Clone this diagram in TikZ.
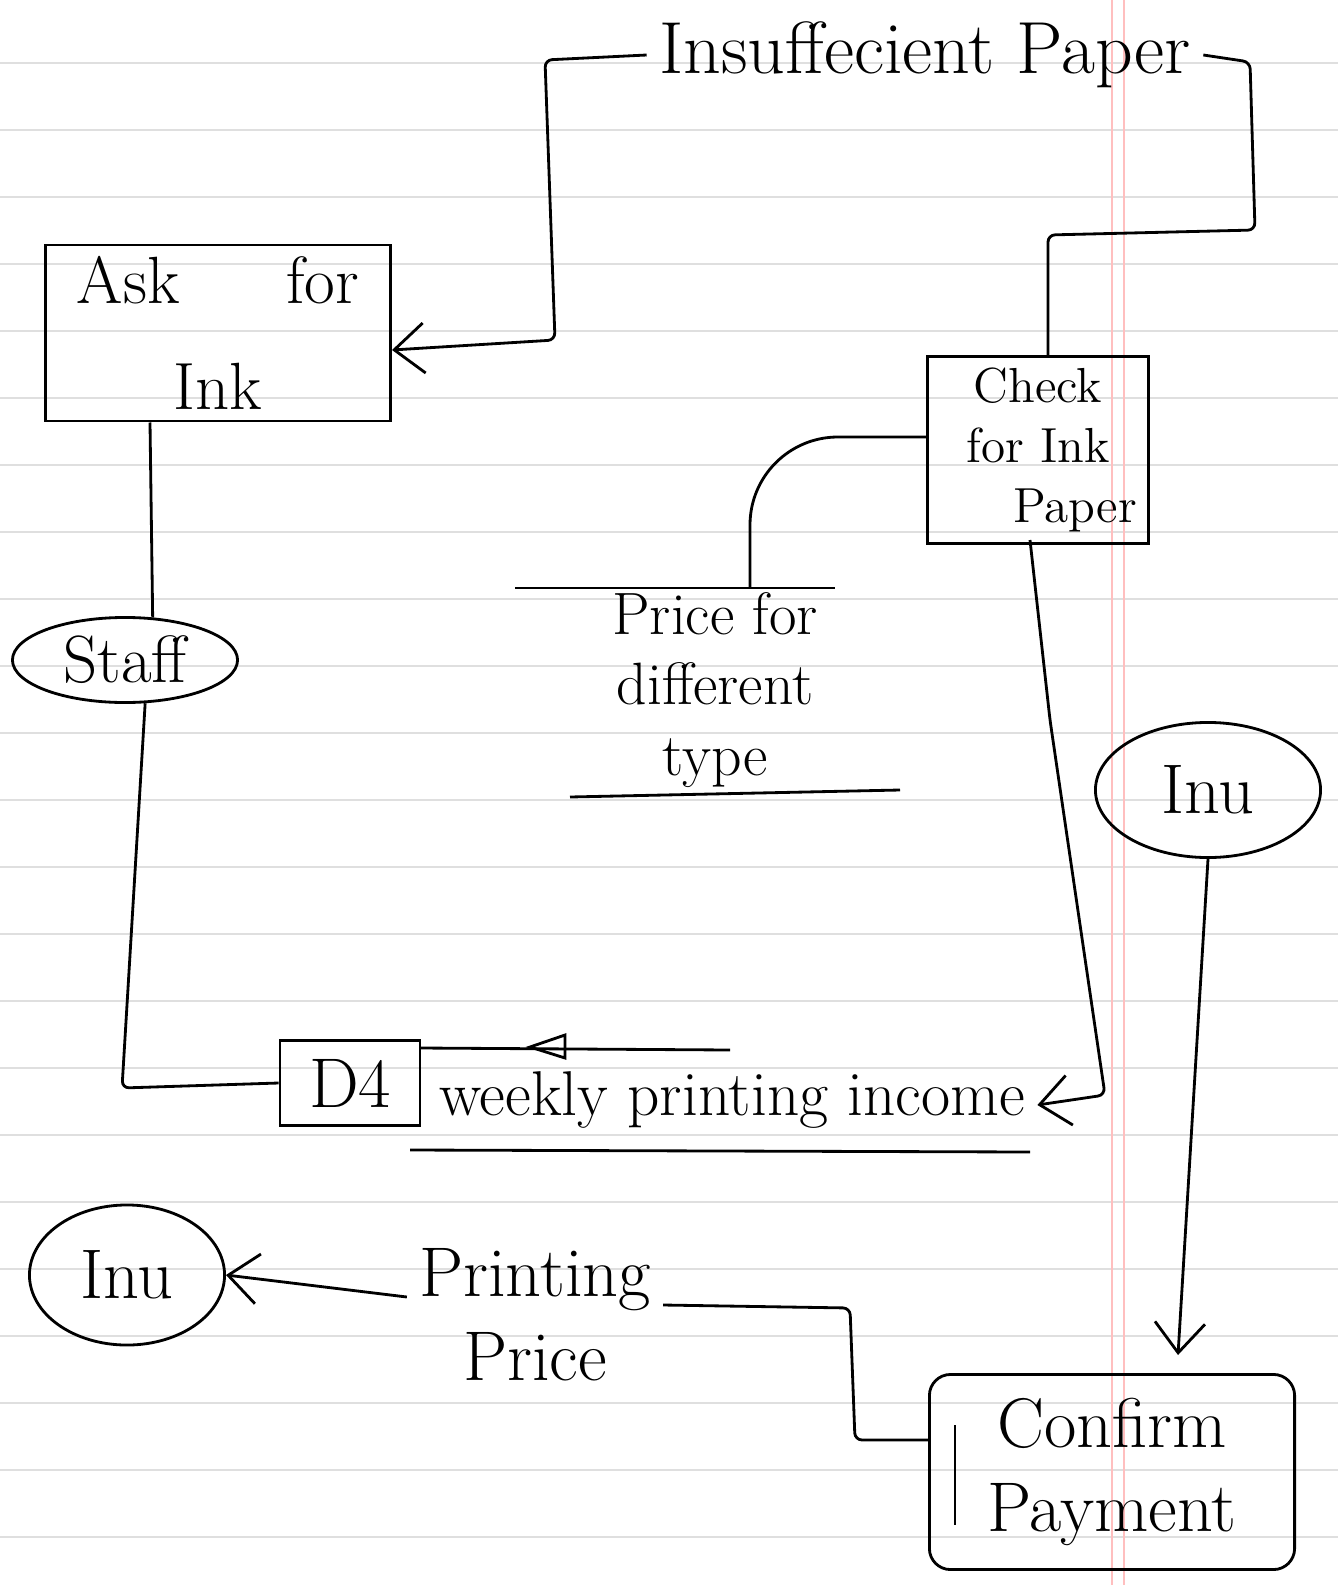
\documentclass[tikz,border=0pt]{standalone}
\usepackage{tikz}
\usetikzlibrary{shapes.geometric, arrows.meta}

\tikzset{
    flow/.style={thick, rounded corners=2pt},
    flowarrow/.style={flow, -{Straight Barb[length=3mm, width=5mm]}},
    procbox/.style={draw, thick, rectangle, align=center},
    entity/.style={draw, thick, ellipse, inner sep=0pt},
    handtext/.style={font=\fontsize{20}{24}\selectfont, align=center}
}

\begin{document}
\begin{tikzpicture}[x=0.01cm, y=-0.01cm]
    \useasboundingbox (0,0) rectangle (1338,1585);
    \fill[white] (0,0) rectangle (1338,1585);

    % Ruled paper
    \foreach \y in {63,130,...,1585} {
        \draw[gray!25] (0,\y) -- (1338,\y);
    }
    \draw[red!25] (1112,0) -- (1112,1585);
    \draw[red!25] (1124,0) -- (1124,1585);

    % Processes
    \node[procbox, font=\fontsize{19}{30}\selectfont, minimum width=3.45cm, minimum height=1.65cm] (ask) at (218,333)
        {Ask\hspace{1.6em}for\\Ink};
    \node[procbox, font=\fontsize{14}{17}\selectfont, minimum width=2.15cm, minimum height=1.8cm] (check) at (1038,450)
        {Check\\for Ink\\\hspace{1.5em}Paper};
    \node[procbox, handtext, rounded corners=6pt, minimum width=3.65cm, minimum height=1.95cm] (confirm) at (1112,1472)
        {Confirm\\Payment};
    \draw[thick] (955,1425) -- (955,1525);

    % External entities
    \node[entity, font=\fontsize{19}{22}\selectfont, minimum width=2.25cm, minimum height=0.85cm] (staff) at (125,660) {Staff};
    \node[entity, handtext, minimum width=2.25cm, minimum height=1.35cm] (inuright) at (1208,790) {Inu};
    \node[entity, handtext, minimum width=1.95cm, minimum height=1.4cm] (inuleft) at (127,1275) {Inu};

    % Data stores
    \node[font=\fontsize{17}{20}\selectfont, align=center] (pricestore) at (715,690) {Price for\\different\\type};
    \coordinate (pricetop) at (750,588);
    \draw[thick] (515,588) -- (835,588);
    \draw[thick] (570,797) -- (900,790);

    \node[draw, thick, handtext, minimum width=1.4cm, minimum height=0.85cm] (dfour) at (350,1083) {D4};
    \node[font=\fontsize{18}{22}\selectfont] (income) at (732,1100) {weekly printing income};
    \draw[thick] (420,1048) -- (730,1050);
    \draw[thick] (410,1150) -- (1030,1152);
    \draw[thick] (565,1035) -- (530,1047) -- (565,1058) -- cycle;

    % Flow labels
    \node[handtext, font=\fontsize{21}{25}\selectfont] (insuff) at (925,55) {Insuffecient Paper};
    \node[handtext] (printprice) at (535,1315) {Printing\\Price};

    % Flows
    \coordinate (insuffleft) at (545,60);
    \coordinate (askin) at (555,350);
    \draw[flow] (check.north -| 1048,0) -- (1048,235) -- (1255,230) -- (1250,62) -- (insuff.east);
    \draw[flowarrow] (insuff.west) -- (insuffleft) -- (555,340) -- (ask.east |- askin);
    \draw[thick, rounded corners=25pt] (check.west |- 0,437) -- (750,437) -- (pricetop);
    \draw[flowarrow] (1030,540) -- (1050,720) -- (1105,1095) -- (income.east |- 0,1105);
    \draw[flow] (ask.south -| 150,0) -- (staff.57);
    \draw[flow] (staff.-65) -- (122,1088) -- (dfour.west);
    \draw[flowarrow] (inuright.south) -- (1178,1355);
    \draw[flow] (printprice.east |- 0,1305) -- (850,1308) -- (855,1440) -- (confirm.west |- 0,1440);
    \draw[flowarrow] (printprice.west |- 0,1297) -- (inuleft.east);
\end{tikzpicture}
\end{document}
